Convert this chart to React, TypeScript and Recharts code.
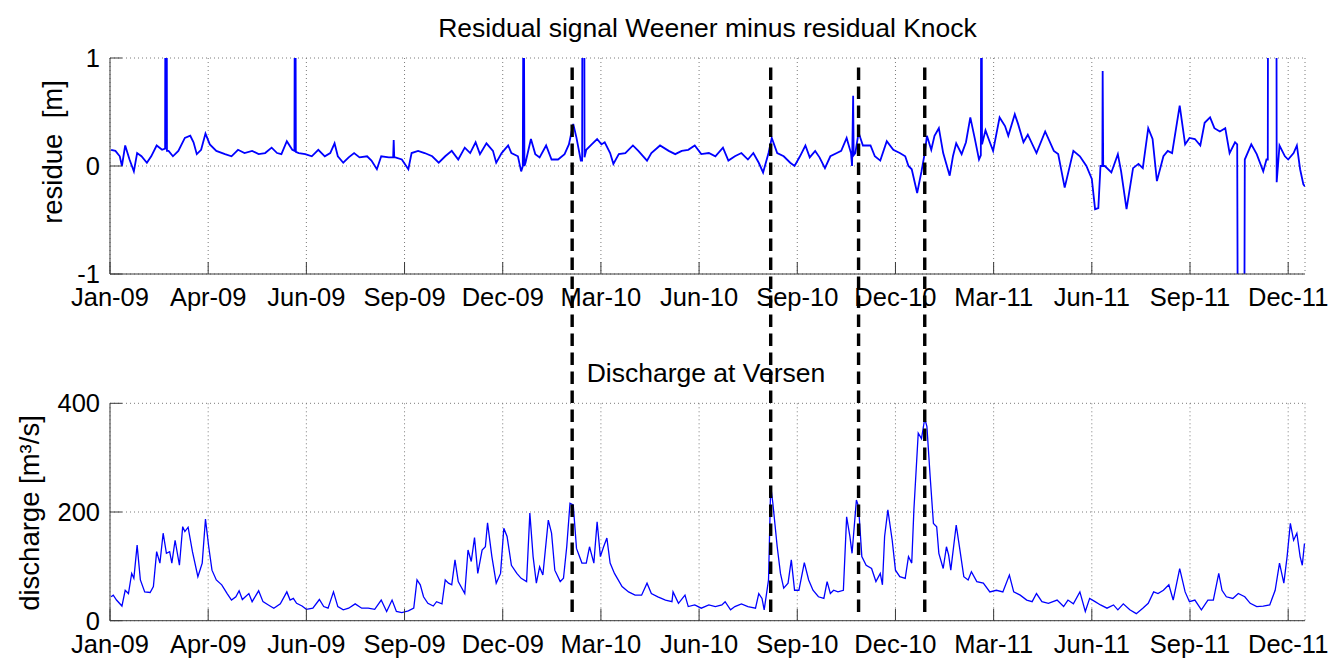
import { CartesianGrid, Label, Line, LineChart, ReferenceLine, XAxis, YAxis } from 'recharts';

// x values are days since 1 Jan 2009; ticks are spaced like MATLAB datetick output
const tickLabels = ['Jan-09', 'Apr-09', 'Jun-09', 'Sep-09', 'Dec-09', 'Mar-10', 'Jun-10', 'Sep-10', 'Dec-10', 'Mar-11', 'Jun-11', 'Sep-11', 'Dec-11'];
const tickDays = [0, 90.5, 181, 271.5, 362, 452.5, 543, 633.5, 724, 814.5, 905, 995.5, 1086];
const dayRange: [number, number] = [0, 1101.5];

const residueTicks = [-1, 0, 1];
const dischargeTicks = [0, 200, 400];

// days marked by the dashed black lines
const eventDays = [426, 609, 690, 751];

// residual Weener minus Knock [m]; values past +-1 are clipped outliers
const residual: [number, number][] = [
  [1, 0.15], [5, 0.14], [9, 0.09], [11, 0.0], [14, 0.19], [18, 0.06], [22, -0.05], [25, 0.12], [29, 0.09], [34, 0.03],
  [38, 0.09], [43, 0.19], [48, 0.15], [50.8, 0.16], [51, 1.5], [52.3, 1.5], [52.5, 0.14], [54, 0.14], [58, 0.09], [63, 0.14],
  [69, 0.26], [74, 0.28], [77, 0.22], [80, 0.11], [84, 0.15], [88, 0.3], [92, 0.2], [98, 0.14], [106, 0.11], [112, 0.09],
  [118, 0.15], [124, 0.12], [131, 0.14], [137, 0.11], [143, 0.12], [149, 0.17], [154, 0.12], [158, 0.11], [163, 0.23], [168, 0.15],
  [170, 0.14], [170.3, 1.5], [171, 1.5], [171.3, 0.13], [174, 0.12], [180, 0.11], [186, 0.09], [192, 0.15], [198, 0.09], [203, 0.12],
  [207, 0.21], [210, 0.09], [215, 0.03], [220, 0.08], [225, 0.12], [230, 0.08], [237, 0.09], [241, 0.05], [246, -0.03], [250, 0.09],
  [257, 0.08], [261, 0.08], [261.5, 0.24], [262, 0.08], [263, 0.08], [269, 0.06], [275, -0.03], [278, 0.12], [284, 0.14], [290, 0.12],
  [297, 0.09], [303, 0.03], [309, 0.09], [315, 0.14], [321, 0.06], [327, 0.17], [332, 0.12], [337, 0.22], [341, 0.11], [347, 0.21],
  [353, 0.14], [356, 0.03], [361, 0.12], [367, 0.19], [370, 0.12], [376, 0.09], [379, -0.05], [380.5, 0.0], [381, 1.5], [381.5, 1.5],
  [382, 0.0], [383, 0.03], [388, 0.25], [392, 0.11], [396, 0.08], [402, 0.19], [407, 0.06], [413, 0.06], [419, 0.11], [423, 0.2],
  [427, 0.39], [430, 0.26], [434, 0.05], [435.2, 0.05], [435.4, 1.5], [437.2, 1.5], [437.4, 0.08], [439, 0.15], [444, 0.2], [449, 0.25],
  [453, 0.2], [456, 0.22], [461, 0.12], [464, 0.02], [469, 0.11], [475, 0.12], [482, 0.19], [487, 0.14], [495, 0.05], [499, 0.12],
  [507, 0.19], [515, 0.14], [521, 0.11], [527, 0.14], [533, 0.15], [539, 0.19], [545, 0.11], [552, 0.12], [558, 0.09], [565, 0.17],
  [570, 0.05], [576, 0.09], [582, 0.12], [588, 0.06], [593, 0.12], [598, 0.03], [602, -0.06], [607, 0.12], [610, 0.26], [615, 0.12],
  [621, 0.09], [627, 0.03], [631, 0.0], [636, 0.09], [641, 0.19], [645, 0.08], [650, 0.14], [654, 0.08], [659, -0.02], [664, 0.09],
  [670, 0.12], [674, 0.14], [679, 0.26], [683, 0.12], [684, 0.0], [685, 0.65], [685.5, 0.1], [687, 0.12], [690, 0.31], [694, 0.19],
  [701, 0.19], [705, 0.09], [710, 0.05], [716, 0.23], [722, 0.15], [728, 0.12], [733, 0.09], [736, 0.0], [739, -0.03], [744, -0.25],
  [748, -0.05], [751, 0.12], [753, 0.28], [757, 0.15], [760, 0.28], [764, 0.35], [768, 0.12], [774, -0.09], [777, 0.09], [780, 0.21],
  [785, 0.11], [789, 0.22], [793, 0.45], [797, 0.26], [801, 0.06], [802.7, 0.1], [803, 1.5], [803.5, 1.5], [803.8, 0.2], [805, 0.25],
  [807, 0.33], [811, 0.22], [814, 0.14], [820, 0.45], [825, 0.37], [828, 0.28], [834, 0.48], [837, 0.39], [842, 0.22], [846, 0.29],
  [854, 0.12], [862, 0.32], [870, 0.14], [874, 0.11], [880, -0.2], [888, 0.14], [894, 0.09], [900, 0.0], [905, -0.12], [908, -0.4],
  [911, -0.39], [913, 0.0], [914.7, 0.0], [915, 0.88], [915.5, 0.0], [917, 0.0], [923, -0.06], [929, 0.11], [932, -0.05], [937, -0.4],
  [943, -0.02], [948, 0.02], [952, -0.02], [957, 0.35], [961, 0.25], [965, -0.14], [971, 0.09], [975, 0.14], [979, 0.12], [986, 0.56],
  [991, 0.2], [995, 0.26], [1000, 0.25], [1005, 0.19], [1009, 0.4], [1014, 0.45], [1018, 0.35], [1023, 0.32], [1028, 0.35], [1032, 0.12],
  [1037, 0.22], [1039, 0.2], [1039.5, -1.5], [1045.6, -1.5], [1046, 0.06], [1052, 0.2], [1057, 0.11], [1063, -0.05], [1066, 0.06], [1067.2, 0.06],
  [1067.4, 1.5], [1075.2, 1.5], [1075.4, -0.15], [1078, 0.19], [1083, 0.09], [1086, 0.06], [1091, 0.12], [1094, 0.19], [1097, -0.03], [1100, -0.17],
  [1101.5, -0.19],
];

// discharge at Versen [m3/s]
const discharge: [number, number][] = [
  [1, 44], [3, 47], [6, 38], [11, 27], [14, 56], [17, 50], [20, 87], [22, 78], [25, 139], [28, 75],
  [32, 53], [37, 52], [40, 63], [43, 127], [46, 106], [49, 161], [52, 124], [55, 127], [57, 106], [60, 148],
  [64, 102], [67, 173], [69, 164], [72, 172], [76, 127], [81, 81], [85, 106], [88, 187], [91, 136], [94, 93],
  [98, 75], [103, 66], [108, 50], [112, 38], [116, 44], [119, 55], [122, 39], [128, 50], [131, 35], [137, 55],
  [141, 35], [146, 29], [151, 23], [157, 31], [163, 53], [166, 38], [169, 41], [172, 32], [177, 27], [181, 21],
  [187, 23], [193, 39], [197, 26], [201, 23], [206, 53], [210, 26], [215, 20], [220, 23], [226, 31], [232, 23],
  [238, 23], [244, 21], [250, 38], [255, 17], [260, 38], [264, 17], [269, 15], [275, 18], [280, 23], [283, 75],
  [286, 66], [289, 44], [293, 32], [298, 27], [301, 35], [306, 31], [309, 75], [312, 69], [315, 66], [318, 112],
  [321, 72], [327, 50], [330, 130], [333, 109], [336, 153], [339, 87], [343, 130], [346, 136], [348, 180], [352, 118],
  [356, 69], [360, 87], [363, 170], [366, 155], [370, 102], [375, 87], [379, 78], [384, 72], [387, 198], [390, 118],
  [393, 69], [396, 99], [399, 84], [404, 185], [407, 161], [410, 93], [415, 72], [418, 78], [421, 136], [424, 216],
  [427, 213], [430, 133], [435, 106], [439, 106], [442, 136], [446, 106], [449, 182], [452, 118], [455, 136], [458, 152],
  [461, 106], [465, 87], [472, 63], [478, 53], [484, 47], [490, 47], [495, 69], [499, 50], [505, 44], [512, 38],
  [518, 35], [519, 53], [524, 32], [530, 47], [533, 26], [539, 29], [545, 23], [552, 29], [558, 26], [564, 29],
  [567, 35], [572, 20], [576, 26], [582, 31], [588, 26], [595, 23], [598, 50], [601, 41], [603, 20], [607, 75],
  [609, 248], [611, 216], [615, 136], [618, 87], [621, 60], [625, 69], [628, 112], [631, 56], [635, 56], [640, 107],
  [644, 75], [648, 56], [653, 44], [658, 41], [661, 72], [664, 50], [667, 56], [671, 53], [676, 56], [679, 191],
  [682, 155], [684, 124], [688, 222], [690, 210], [693, 118], [697, 102], [702, 96], [706, 72], [710, 87], [712, 66],
  [714, 155], [717, 204], [721, 148], [724, 93], [728, 81], [733, 78], [736, 118], [739, 106], [741, 204], [745, 345],
  [748, 335], [751, 372], [753, 357], [756, 265], [759, 179], [762, 173], [764, 124], [768, 96], [771, 136], [773, 121],
  [775, 93], [780, 176], [783, 136], [787, 81], [791, 75], [794, 90], [799, 72], [805, 69], [811, 53], [817, 56],
  [823, 53], [829, 84], [833, 53], [839, 47], [845, 38], [850, 35], [854, 50], [859, 35], [865, 32], [873, 38],
  [879, 26], [883, 38], [888, 31], [894, 53], [899, 17], [903, 41], [908, 35], [913, 29], [919, 23], [925, 29],
  [929, 20], [934, 31], [940, 20], [946, 13], [952, 23], [957, 32], [962, 53], [966, 50], [971, 56], [976, 66],
  [980, 38], [986, 96], [991, 53], [995, 35], [1000, 38], [1006, 20], [1012, 38], [1017, 38], [1022, 87], [1025, 56],
  [1029, 44], [1035, 41], [1040, 50], [1046, 44], [1051, 32], [1057, 26], [1063, 27], [1069, 29], [1074, 56], [1078, 106],
  [1082, 69], [1085, 118], [1088, 179], [1091, 148], [1094, 161], [1097, 118], [1099, 102], [1101, 142],
];

const FONT = '"Liberation Sans", Arial, Helvetica, sans-serif';
const AXIS = '#3a3a3a';
const BLUE = '#0000ff';
const W = 1328;

const toRows = (pairs: [number, number][]) => pairs.map(([day, value]) => ({ day, value }));
const residualRows = toRows(residual);
const dischargeRows = toRows(discharge);
const eventRows = eventDays.map((day) => ({ day, value: 0.5 }));

const formatDay = (v: number) => tickLabels[tickDays.indexOf(v)] ?? '';
const tickStyle = { fill: '#000', fontSize: 25.5, fontFamily: FONT };
// mirror axes (top / right) keep their inward tick marks but carry no labels
const noLabel = () => <g />;

export default function App() {
  return (
    <div style={{ position: 'absolute', left: 0, top: 0, width: W, height: 658, background: '#fff', overflow: 'hidden' }}>
      <svg width={W} height={658} style={{ position: 'absolute', left: 0, top: 0 }}>
        <text x={707.5} y={36.7} textAnchor="middle" fontSize={26.5} fontFamily={FONT} fill="#000">
          Residual signal Weener minus residual Knock
        </text>
        <text x={706} y={382} textAnchor="middle" fontSize={26.5} fontFamily={FONT} fill="#000">
          Discharge at Versen
        </text>
      </svg>

      <div style={{ position: 'absolute', left: 0, top: 0 }}>
        <LineChart width={W} height={330} margin={{ top: 58, right: 23, bottom: 0, left: 0 }}>
          <CartesianGrid stroke="#7a7a7a" strokeDasharray="1 3" />
          <XAxis dataKey="day" type="number" domain={dayRange} ticks={tickDays} interval={0} tickFormatter={formatDay}
            height={56} tickSize={-12} tickMargin={26} tick={tickStyle} stroke={AXIS} allowDataOverflow />
          <XAxis xAxisId="top" orientation="top" dataKey="day" type="number" domain={dayRange} ticks={tickDays} interval={0}
            height={0} tickSize={-12} tick={noLabel} stroke={AXIS} allowDataOverflow />
          <YAxis type="number" domain={[-1, 1]} ticks={residueTicks} interval={0} width={110} tickSize={-12} tickMargin={22}
            tick={tickStyle} stroke={AXIS} allowDataOverflow>
            <Label value={'residue\u00a0\u00a0[m]'} angle={-90} position="center" dx={-3} dy={-14}
              fontSize={27.5} fontFamily={FONT} fill="#000" />
          </YAxis>
          <YAxis yAxisId="right" orientation="right" type="number" domain={[-1, 1]} ticks={residueTicks} interval={0}
            width={0} tickSize={-12} tick={noLabel} stroke={AXIS} allowDataOverflow />
          <Line data={residualRows} dataKey="value" type="linear" stroke={BLUE} strokeWidth={1.8} dot={false}
            isAnimationActive={false} />
        </LineChart>
      </div>

      <div style={{ position: 'absolute', left: 0, top: 330 }}>
        <LineChart width={W} height={328} margin={{ top: 73.3, right: 23, bottom: 0, left: 0 }}>
          <CartesianGrid stroke="#7a7a7a" strokeDasharray="1 3" />
          <XAxis dataKey="day" type="number" domain={dayRange} ticks={tickDays} interval={0} tickFormatter={formatDay}
            height={37.3} tickSize={-12} tickMargin={26} tick={tickStyle} stroke={AXIS} allowDataOverflow />
          <XAxis xAxisId="top" orientation="top" dataKey="day" type="number" domain={dayRange} ticks={tickDays} interval={0}
            height={0} tickSize={-12} tick={noLabel} stroke={AXIS} allowDataOverflow />
          <YAxis type="number" domain={[0, 400]} ticks={dischargeTicks} interval={0} width={110} tickSize={-12} tickMargin={22}
            tick={tickStyle} stroke={AXIS} allowDataOverflow>
            <Label value="discharge [m³/s]" angle={-90} position="center" dx={-25.5} dy={1}
              fontSize={27.5} fontFamily={FONT} fill="#000" />
          </YAxis>
          <YAxis yAxisId="right" orientation="right" type="number" domain={[0, 400]} ticks={dischargeTicks} interval={0}
            width={0} tickSize={-12} tick={noLabel} stroke={AXIS} allowDataOverflow />
          <Line data={dischargeRows} dataKey="value" type="linear" stroke={BLUE} strokeWidth={1.3} dot={false}
            isAnimationActive={false} />
        </LineChart>
      </div>

      {/* dashed event markers span both panels */}
      <div style={{ position: 'absolute', left: 0, top: 0, pointerEvents: 'none' }}>
        <LineChart width={W} height={658} data={eventRows} margin={{ top: 66, right: 23, bottom: 46, left: 110 }}>
          <XAxis dataKey="day" type="number" domain={dayRange} hide allowDataOverflow />
          <YAxis type="number" domain={[0, 1]} hide />
          <Line dataKey="value" stroke="none" dot={false} isAnimationActive={false} />
          {eventDays.map((d) => (
            <ReferenceLine key={d} x={d} stroke="#000" strokeWidth={3.4} strokeDasharray="12.5 6.5" />
          ))}
        </LineChart>
      </div>
    </div>
  );
}
